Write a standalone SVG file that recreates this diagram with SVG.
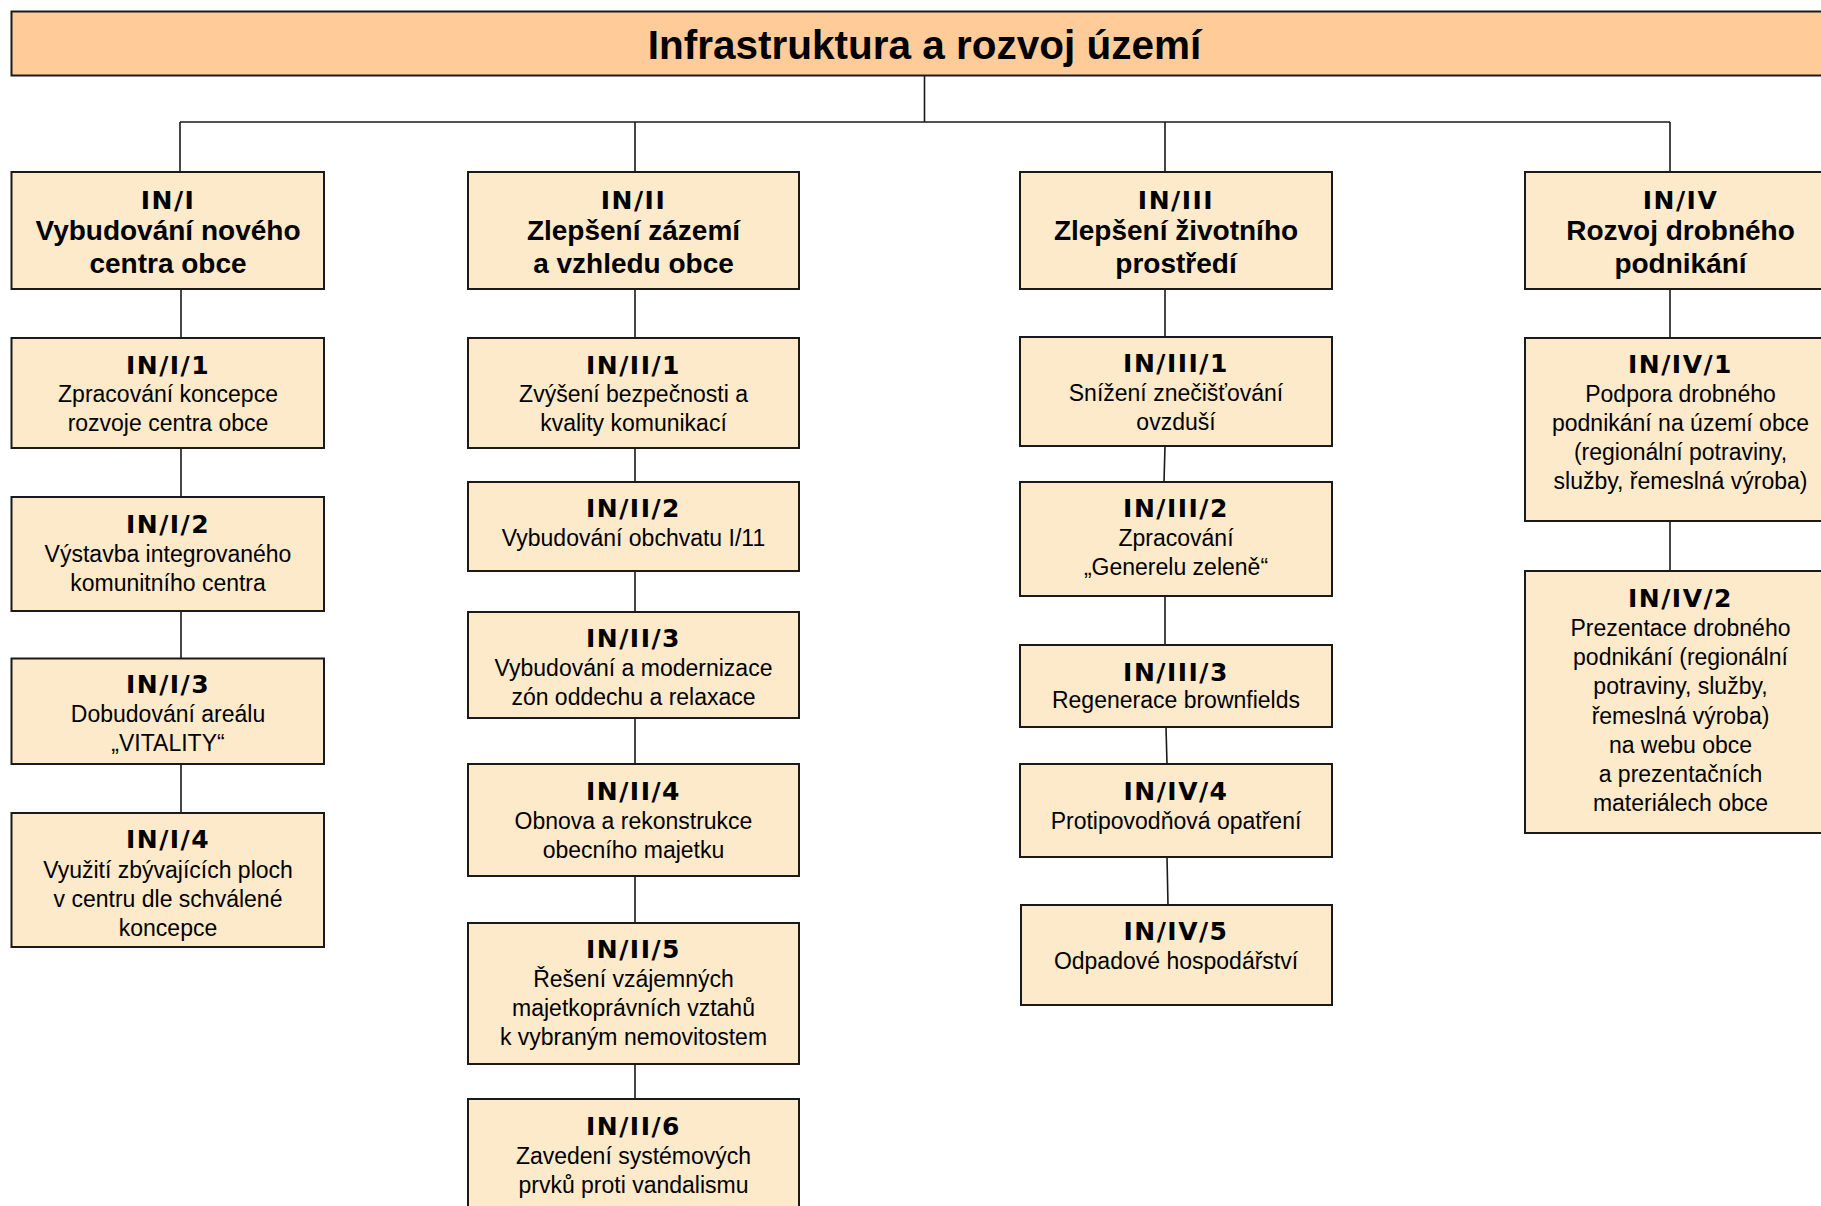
<svg xmlns="http://www.w3.org/2000/svg" width="1821" height="1206" viewBox="0 0 1821 1206">
<style>
.box{fill:#FCEACB;stroke:#1a1a1a;stroke-width:2}
.top{fill:#FFCC99;stroke:#1a1a1a;stroke-width:2}
.ln{stroke:#1a1a1a;stroke-width:1.6;fill:none}
text{fill:#000;text-anchor:middle}
.t{font-family:"Liberation Sans",Arial,sans-serif;font-weight:bold;font-size:40.5px}
.h{font-family:"Liberation Sans",Arial,sans-serif;font-weight:bold;font-size:28px}
.c{font-family:"DejaVu Sans",Verdana,sans-serif;font-weight:bold;font-size:25px;letter-spacing:1.5px}
.b{font-family:"Liberation Sans",Arial,sans-serif;font-size:23px}
</style>
<rect width="1821" height="1206" fill="#fff"/>
<g id="connectors">
<path class="ln" d="M924.5 76V122M180 122H1670M180 122V172M635 122V172M1165 122V172M1670 122V172"/>
<path class="ln" d="M181 289V338M181 448V497M181 611V658M181 764V813"/>
<path class="ln" d="M635 289V338M635 448V482M635 571V612M635 718V764M635 876V923M635 1064V1099"/>
<path class="ln" d="M1165 289V337M1165 446L1164 482M1165 596V645M1166 727L1167 764M1167 857L1168 905"/>
<path class="ln" d="M1670 289V338M1670 521V571"/>
</g>
<g id="title">
<rect class="top" x="11.5" y="11.5" width="1820" height="64"/>
<text class="t" x="924.5" y="59">Infrastruktura a rozvoj území</text>
</g>
<g id="IN-I">
<rect class="box" x="11.5" y="172" width="312.5" height="117"/>
<text class="c" x="168" y="209">IN/I</text>
<text class="h" x="168" y="240">Vybudování nového</text>
<text class="h" x="168" y="273">centra obce</text>
</g>
<g id="IN-I-1">
<rect class="box" x="11.5" y="338" width="312.5" height="110"/>
<text class="c" x="168" y="374">IN/I/1</text>
<text class="b" x="168" y="402">Zpracování koncepce</text>
<text class="b" x="168" y="431">rozvoje centra obce</text>
</g>
<g id="IN-I-2">
<rect class="box" x="11.5" y="497" width="312.5" height="114"/>
<text class="c" x="168" y="533">IN/I/2</text>
<text class="b" x="168" y="562">Výstavba integrovaného</text>
<text class="b" x="168" y="591">komunitního centra</text>
</g>
<g id="IN-I-3">
<rect class="box" x="11.5" y="658.5" width="312.5" height="105.5"/>
<text class="c" x="168" y="693">IN/I/3</text>
<text class="b" x="168" y="722">Dobudování areálu</text>
<text class="b" x="168" y="751">„VITALITY“</text>
</g>
<g id="IN-I-4">
<rect class="box" x="11.5" y="813" width="312.5" height="134"/>
<text class="c" x="168" y="848">IN/I/4</text>
<text class="b" x="168" y="878">Využití zbývajících ploch</text>
<text class="b" x="168" y="907">v centru dle schválené</text>
<text class="b" x="168" y="936">koncepce</text>
</g>
<g id="IN-II">
<rect class="box" x="468" y="172" width="331" height="117"/>
<text class="c" x="633.5" y="209">IN/II</text>
<text class="h" x="633.5" y="240">Zlepšení zázemí</text>
<text class="h" x="633.5" y="273">a vzhledu obce</text>
</g>
<g id="IN-II-1">
<rect class="box" x="468" y="338" width="331" height="110"/>
<text class="c" x="633.5" y="374">IN/II/1</text>
<text class="b" x="633.5" y="402">Zvýšení bezpečnosti a</text>
<text class="b" x="633.5" y="431">kvality komunikací</text>
</g>
<g id="IN-II-2">
<rect class="box" x="468" y="482" width="331" height="89"/>
<text class="c" x="633.5" y="517">IN/II/2</text>
<text class="b" x="633.5" y="546">Vybudování obchvatu I/11</text>
</g>
<g id="IN-II-3">
<rect class="box" x="468" y="612" width="331" height="106"/>
<text class="c" x="633.5" y="647">IN/II/3</text>
<text class="b" x="633.5" y="676">Vybudování a modernizace</text>
<text class="b" x="633.5" y="705">zón oddechu a relaxace</text>
</g>
<g id="IN-II-4">
<rect class="box" x="468" y="764" width="331" height="112"/>
<text class="c" x="633.5" y="800">IN/II/4</text>
<text class="b" x="633.5" y="829">Obnova a rekonstrukce</text>
<text class="b" x="633.5" y="858">obecního majetku</text>
</g>
<g id="IN-II-5">
<rect class="box" x="468" y="923" width="331" height="141"/>
<text class="c" x="633.5" y="958">IN/II/5</text>
<text class="b" x="633.5" y="987">Řešení vzájemných</text>
<text class="b" x="633.5" y="1016">majetkoprávních vztahů</text>
<text class="b" x="633.5" y="1045">k vybraným nemovitostem</text>
</g>
<g id="IN-II-6">
<rect class="box" x="468" y="1099" width="331" height="130"/>
<text class="c" x="633.5" y="1135">IN/II/6</text>
<text class="b" x="633.5" y="1164">Zavedení systémových</text>
<text class="b" x="633.5" y="1193">prvků proti vandalismu</text>
</g>
<g id="IN-III">
<rect class="box" x="1020" y="172" width="312" height="117"/>
<text class="c" x="1176" y="209">IN/III</text>
<text class="h" x="1176" y="240">Zlepšení životního</text>
<text class="h" x="1176" y="273">prostředí</text>
</g>
<g id="IN-III-1">
<rect class="box" x="1020" y="337" width="312" height="109"/>
<text class="c" x="1176" y="372">IN/III/1</text>
<text class="b" x="1176" y="401">Snížení znečišťování</text>
<text class="b" x="1176" y="430">ovzduší</text>
</g>
<g id="IN-III-2">
<rect class="box" x="1020" y="482" width="312" height="114"/>
<text class="c" x="1176" y="517">IN/III/2</text>
<text class="b" x="1176" y="546">Zpracování</text>
<text class="b" x="1176" y="575">„Generelu zeleně“</text>
</g>
<g id="IN-III-3">
<rect class="box" x="1020" y="645" width="312" height="82"/>
<text class="c" x="1176" y="681">IN/III/3</text>
<text class="b" x="1176" y="708">Regenerace brownfields</text>
</g>
<g id="IN-IV-4">
<rect class="box" x="1020" y="764" width="312" height="93"/>
<text class="c" x="1176" y="800">IN/IV/4</text>
<text class="b" x="1176" y="829">Protipovodňová opatření</text>
</g>
<g id="IN-IV-5">
<rect class="box" x="1021" y="905" width="311" height="100"/>
<text class="c" x="1176" y="940">IN/IV/5</text>
<text class="b" x="1176" y="969">Odpadové hospodářství</text>
</g>
<g id="IN-IV">
<rect class="box" x="1525" y="172" width="320" height="117"/>
<text class="c" x="1680.5" y="209">IN/IV</text>
<text class="h" x="1680.5" y="240">Rozvoj drobného</text>
<text class="h" x="1680.5" y="273">podnikání</text>
</g>
<g id="IN-IV-1">
<rect class="box" x="1525" y="338" width="320" height="183"/>
<text class="c" x="1680.5" y="373">IN/IV/1</text>
<text class="b" x="1680.5" y="402">Podpora drobného</text>
<text class="b" x="1680.5" y="431">podnikání na území obce</text>
<text class="b" x="1680.5" y="460">(regionální potraviny,</text>
<text class="b" x="1680.5" y="489">služby, řemeslná výroba)</text>
</g>
<g id="IN-IV-2">
<rect class="box" x="1525" y="571" width="320" height="262"/>
<text class="c" x="1680.5" y="607">IN/IV/2</text>
<text class="b" x="1680.5" y="636">Prezentace drobného</text>
<text class="b" x="1680.5" y="665">podnikání (regionální</text>
<text class="b" x="1680.5" y="694">potraviny, služby,</text>
<text class="b" x="1680.5" y="724">řemeslná výroba)</text>
<text class="b" x="1680.5" y="753">na webu obce</text>
<text class="b" x="1680.5" y="782">a prezentačních</text>
<text class="b" x="1680.5" y="811">materiálech obce</text>
</g>
</svg>
